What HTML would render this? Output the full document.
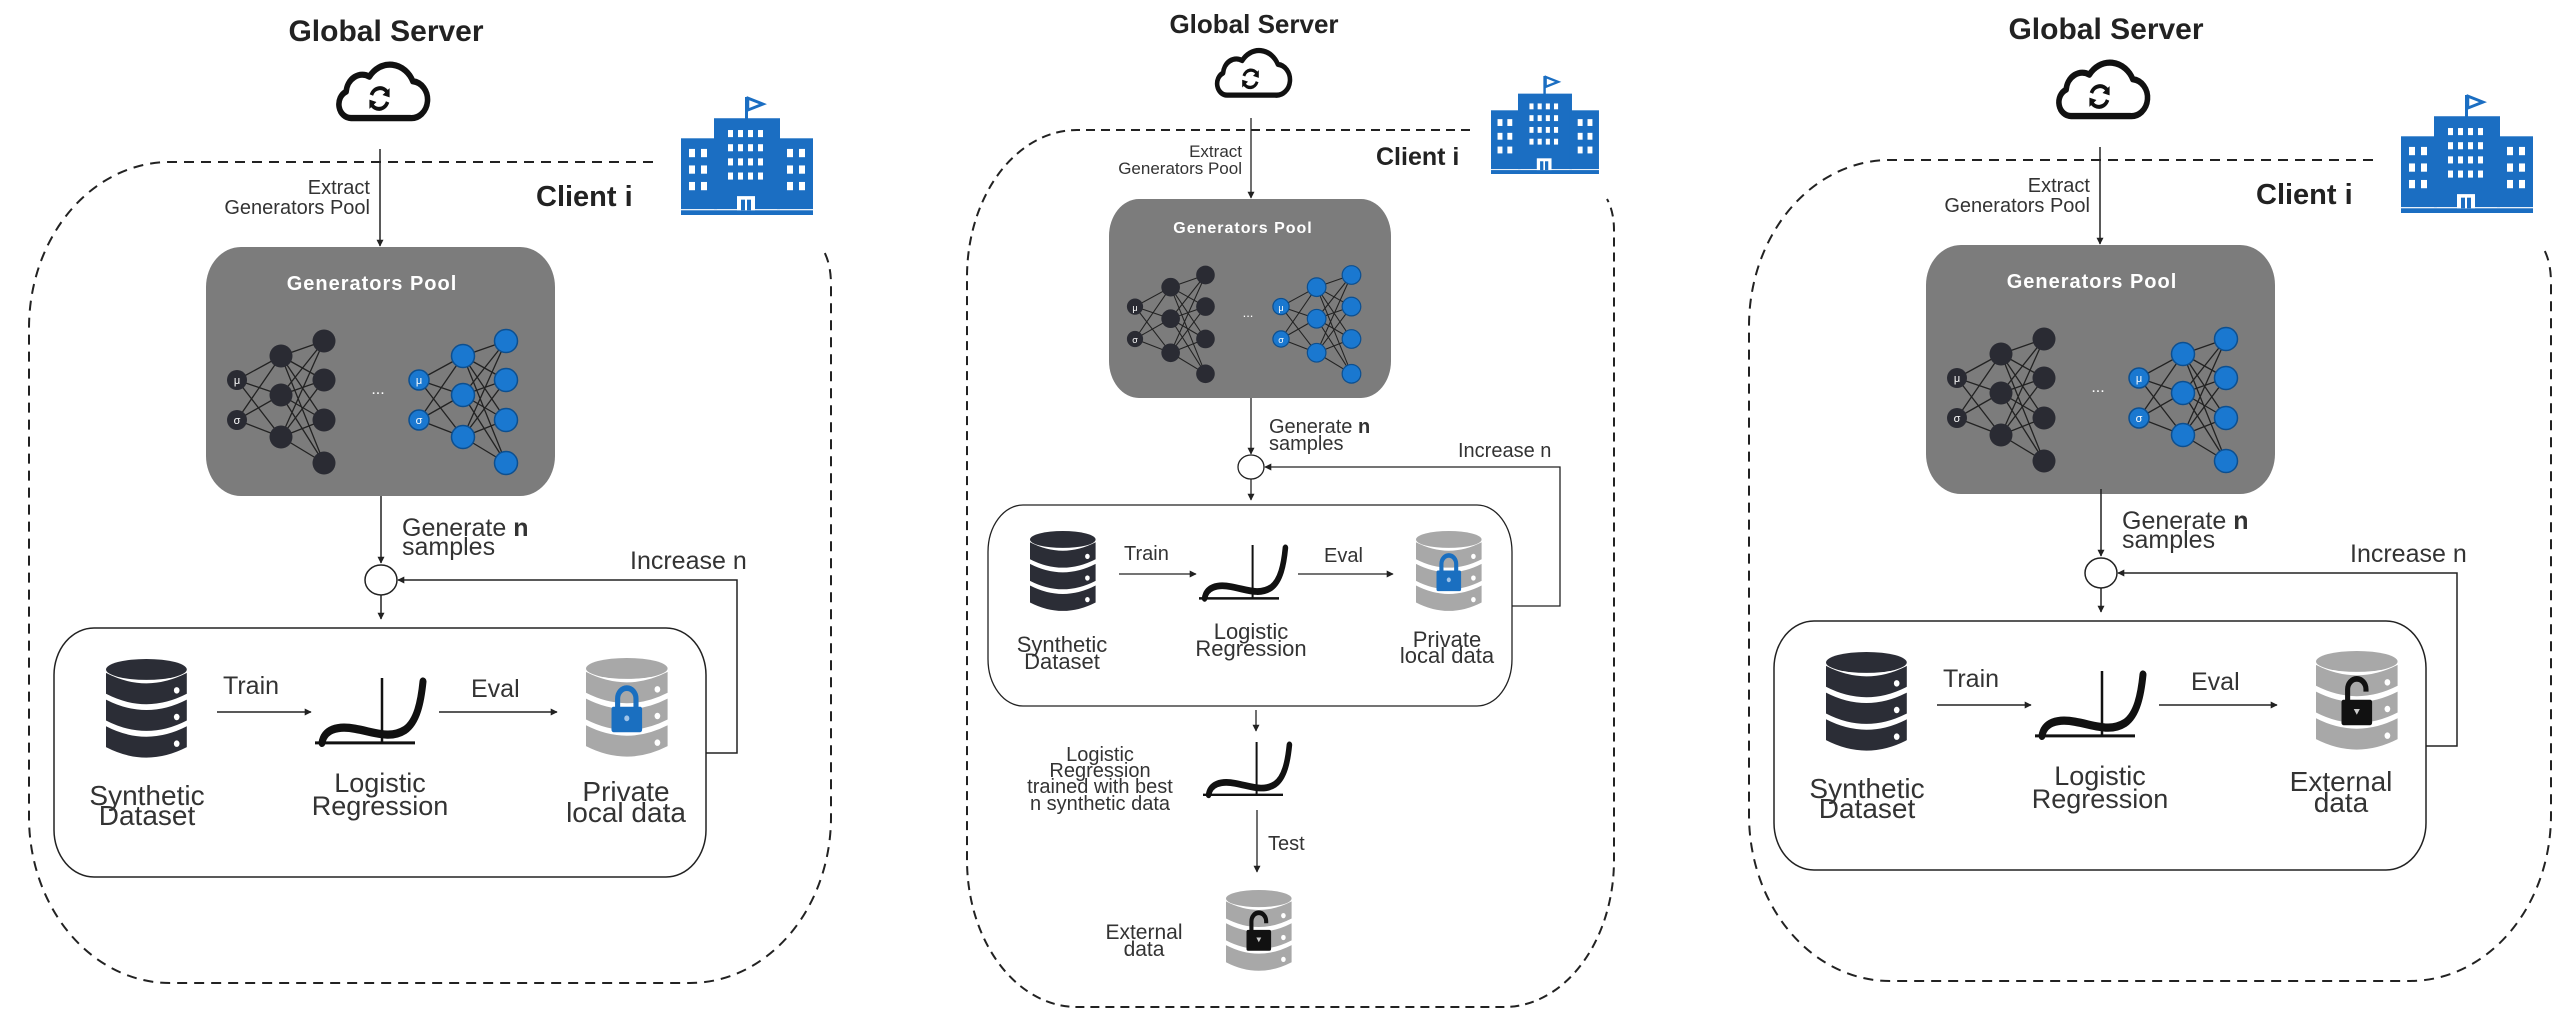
<!DOCTYPE html>
<html><head><meta charset="utf-8"><style>
html,body{margin:0;padding:0;background:#fff;}
svg{display:block;font-family:"Liberation Sans",sans-serif;}
</style></head><body>
<svg width="2566" height="1021" viewBox="0 0 2566 1021" xmlns="http://www.w3.org/2000/svg">
<defs>
<marker id="ah" viewBox="0 0 10 10" refX="9" refY="5" markerWidth="7" markerHeight="7" markerUnits="userSpaceOnUse" orient="auto"><path d="M0,0 L10,5 L0,10 Z" fill="#222"/></marker>
<g id="cloud">
<path d="M22,47 H80 A16,16 0 0 0 83,15 A25,25 0 0 0 40,11 A16,16 0 0 0 17,24 A12,12 0 0 0 22,47 Z" fill="#fff" stroke="#111" stroke-width="5.5" stroke-linejoin="round"/>
<path d="M42,27 A9,9 0 0 1 58,25" fill="none" stroke="#111" stroke-width="3.5"/>
<path d="M60,21 L60,29 L53,27 Z" fill="#111"/>
<path d="M58,33 A9,9 0 0 1 42,35" fill="none" stroke="#111" stroke-width="3.5"/>
<path d="M40,39 L40,31 L47,33 Z" fill="#111"/>
</g>
<g id="bldg" fill="#1b6ec2">
<rect x="0" y="35" width="36" height="60"/>
<rect x="33" y="18" width="66" height="77"/>
<rect x="96" y="35" width="36" height="60"/>
<rect x="0" y="96" width="132" height="4"/>
<rect x="64" y="0" width="3" height="19"/>
<path d="M67,1 L82,6 L67,11 Z" fill="none" stroke="#1b6ec2" stroke-width="2.5"/>
<g fill="#fff">
<rect x="8" y="44" width="6" height="7"/><rect x="20" y="44" width="6" height="7"/>
<rect x="8" y="58" width="6" height="7"/><rect x="20" y="58" width="6" height="7"/>
<rect x="8" y="72" width="6" height="7"/><rect x="20" y="72" width="6" height="7"/>
<rect x="106" y="44" width="6" height="7"/><rect x="118" y="44" width="6" height="7"/>
<rect x="106" y="58" width="6" height="7"/><rect x="118" y="58" width="6" height="7"/>
<rect x="106" y="72" width="6" height="7"/><rect x="118" y="72" width="6" height="7"/>
<rect x="47" y="28" width="5" height="6"/><rect x="57" y="28" width="5" height="6"/><rect x="67" y="28" width="5" height="6"/><rect x="77" y="28" width="5" height="6"/>
<rect x="47" y="40" width="5" height="6"/><rect x="57" y="40" width="5" height="6"/><rect x="67" y="40" width="5" height="6"/><rect x="77" y="40" width="5" height="6"/>
<rect x="47" y="52" width="5" height="6"/><rect x="57" y="52" width="5" height="6"/><rect x="67" y="52" width="5" height="6"/><rect x="77" y="52" width="5" height="6"/>
<rect x="47" y="64" width="5" height="6"/><rect x="57" y="64" width="5" height="6"/><rect x="67" y="64" width="5" height="6"/><rect x="77" y="64" width="5" height="6"/>
<rect x="56" y="84" width="18" height="12"/>
</g>
<rect x="60" y="87" width="4" height="9"/><rect x="66" y="87" width="4" height="9"/>
</g>
<g id="db">
<ellipse cx="40" cy="9" rx="40" ry="9"/>
<path d="M0,12 Q40,30 80,12 V30 Q40,48 0,30 Z"/>
<path d="M0,35 Q40,53 80,35 V53 Q40,71 0,53 Z"/>
<path d="M0,58 Q40,76 80,58 V76 Q40,94 0,76 Z"/>
<g fill="#fff"><circle cx="70" cy="27" r="2.8"/><circle cx="70" cy="50" r="2.8"/><circle cx="70" cy="73" r="2.8"/></g>
</g>
<g id="lockb">
<path d="M31,43 V35 A9,9 0 0 1 49,35 V43" fill="none" stroke="#1a6fc0" stroke-width="5"/>
<rect x="25" y="42" width="30" height="22" rx="2" fill="#1a6fc0"/>
<circle cx="40" cy="52" r="2.5" fill="#9fc3e8"/>
</g>
<g id="lockk">
<path d="M31,43 V33 A9,9 0 0 1 49,33 V35" fill="none" stroke="#111" stroke-width="5"/>
<rect x="25" y="42" width="30" height="22" rx="2" fill="#111"/>
<path d="M37,50 H43 L40,55 Z" fill="#ccc"/>
</g>
<g id="logi">
<path d="M0,55 H100 M67,0 V55" stroke="#111" stroke-width="2.5" fill="none"/>
<path d="M7,55 C9,44 22,40 40,43 C60,46 75,52 90,44 C102,37 106,20 108,3" stroke="#111" stroke-width="7" fill="none" stroke-linecap="round"/>
</g>
<g id="nnedges" stroke="#222" stroke-width="1.3">
<path d="M0,39 L44,15 M0,39 L44,54 M0,39 L44,96 M0,79 L44,15 M0,79 L44,54 M0,79 L44,96 M44,15 L87,0 M44,15 L87,39 M44,15 L87,79 M44,15 L87,122 M44,54 L87,0 M44,54 L87,39 M44,54 L87,79 M44,54 L87,122 M44,96 L87,0 M44,96 L87,39 M44,96 L87,79 M44,96 L87,122"/>
</g>
<g id="nnd">
<use href="#nnedges"/>
<g fill="#2a2b33">
<circle cx="0" cy="39" r="10"/><circle cx="0" cy="79" r="10"/>
<circle cx="44" cy="15" r="11.5"/><circle cx="44" cy="54" r="11.5"/><circle cx="44" cy="96" r="11.5"/>
<circle cx="87" cy="0" r="11.5"/><circle cx="87" cy="39" r="11.5"/><circle cx="87" cy="79" r="11.5"/><circle cx="87" cy="122" r="11.5"/>
</g>
</g>
<g id="nnb">
<use href="#nnedges"/>
<g fill="#1a78d0" stroke="#0d4f8f" stroke-width="1.5">
<circle cx="0" cy="39" r="10"/><circle cx="0" cy="79" r="10"/>
<circle cx="44" cy="15" r="11.5"/><circle cx="44" cy="54" r="11.5"/><circle cx="44" cy="96" r="11.5"/>
<circle cx="87" cy="0" r="11.5"/><circle cx="87" cy="39" r="11.5"/><circle cx="87" cy="79" r="11.5"/><circle cx="87" cy="122" r="11.5"/>
</g>
</g>
<g id="ptop">
<text x="386" y="41" font-size="30" font-weight="bold" fill="#222" text-anchor="middle">Global Server</text>
<use href="#cloud" transform="translate(329,64) scale(1.01,1.15)"/>
<use href="#bldg" transform="translate(681,97) scale(1,1.18)"/>
<text x="536" y="206" font-size="29" font-weight="bold" fill="#222">Client i</text>
<line x1="380" y1="149" x2="380" y2="246" stroke="#222" stroke-width="1.5" marker-end="url(#ah)"/>
<text x="370" y="194" font-size="20" fill="#333" text-anchor="end">Extract</text>
<text x="370" y="214" font-size="20" fill="#333" text-anchor="end">Generators Pool</text>
<rect x="206" y="247" width="349" height="249" rx="35" ry="40" fill="#7c7c7c"/>
<text x="372" y="290" font-size="20" font-weight="bold" fill="#fff" text-anchor="middle" letter-spacing="1">Generators Pool</text>
<use href="#nnd" transform="translate(237,341)"/>
<use href="#nnb" transform="translate(419,341)"/>
<text x="237" y="384" font-size="11" fill="#fff" text-anchor="middle">μ</text>
<text x="237" y="424" font-size="11" fill="#fff" text-anchor="middle">σ</text>
<text x="419" y="384" font-size="11" fill="#fff" text-anchor="middle">μ</text>
<text x="419" y="424" font-size="11" fill="#fff" text-anchor="middle">σ</text>
<text x="378" y="394" font-size="16" fill="#fff" text-anchor="middle">...</text>
</g>
<g id="pbot">
<line x1="381" y1="496" x2="381" y2="563" stroke="#222" stroke-width="1.5" marker-end="url(#ah)"/>
<ellipse cx="381" cy="580" rx="16" ry="15" fill="#fff" stroke="#222" stroke-width="1.5"/>
<text x="402" y="536" font-size="25" fill="#333">Generate <tspan font-weight="bold">n</tspan></text>
<text x="402" y="555" font-size="25" fill="#333">samples</text>
<line x1="381" y1="595" x2="381" y2="619" stroke="#222" stroke-width="1.5" marker-end="url(#ah)"/>
<polyline points="706,753 737,753 737,580 398,580" fill="none" stroke="#222" stroke-width="1.5" marker-end="url(#ah)"/>
<text x="630" y="569" font-size="25" fill="#333">Increase n</text>
<use href="#db" transform="translate(106,659) scale(1.01,1.16)" fill="#2b2d36"/>
<text x="147" y="805" font-size="28" fill="#333" text-anchor="middle">Synthetic</text>
<text x="147" y="825" font-size="28" fill="#333" text-anchor="middle">Dataset</text>
<text x="223" y="694" font-size="25" fill="#333">Train</text>
<line x1="217" y1="712" x2="311" y2="712" stroke="#222" stroke-width="1.5" marker-end="url(#ah)"/>
<use href="#logi" transform="translate(315,678) scale(1,1.18)"/>
<text x="380" y="792" font-size="27" fill="#333" text-anchor="middle">Logistic</text>
<text x="380" y="815" font-size="27" fill="#333" text-anchor="middle">Regression</text>
<text x="471" y="697" font-size="25" fill="#333">Eval</text>
<line x1="439" y1="712" x2="557" y2="712" stroke="#222" stroke-width="1.5" marker-end="url(#ah)"/>
</g>
</defs>

<!-- ===== LEFT PANEL ===== -->
<path d="M653,162 H170 A141,166 0 0 0 29,328 V817 A141,166 0 0 0 170,983 H690 A141,166 0 0 0 831,817 V285 Q831,262 822,248" fill="none" stroke="#222" stroke-width="2" stroke-dasharray="10 7"/>
<use href="#ptop"/>
<rect x="54" y="628" width="652" height="249" rx="40" ry="47" fill="#fff" stroke="#222" stroke-width="1.5"/>
<use href="#pbot"/>
<use href="#db" transform="translate(586,658) scale(1.02,1.16)" fill="#a8a8a8"/>
<use href="#lockb" transform="translate(586,658) scale(1.02,1.16)"/>
<text x="626" y="801" font-size="28" fill="#333" text-anchor="middle">Private</text>
<text x="626" y="822" font-size="28" fill="#333" text-anchor="middle">local data</text>

<!-- ===== RIGHT PANEL ===== -->
<g transform="translate(1720,-2)">
<path d="M653,162 H170 A141,166 0 0 0 29,328 V817 A141,166 0 0 0 170,983 H690 A141,166 0 0 0 831,817 V285 Q831,262 822,248" fill="none" stroke="#222" stroke-width="2" stroke-dasharray="10 7"/>
<use href="#ptop"/>
</g>
<g transform="translate(1720,-7)">
<rect x="54" y="628" width="652" height="249" rx="40" ry="47" fill="#fff" stroke="#222" stroke-width="1.5"/>
<use href="#pbot"/>
<use href="#db" transform="translate(596,658) scale(1.02,1.16)" fill="#a8a8a8"/>
<use href="#lockk" transform="translate(596,658) scale(1.02,1.16)"/>
<text x="621" y="798" font-size="28" fill="#333" text-anchor="middle">External</text>
<text x="621" y="819" font-size="28" fill="#333" text-anchor="middle">data</text>
</g>

<!-- ===== MIDDLE PANEL ===== -->
<g>
<text x="1254" y="33" font-size="26" font-weight="bold" fill="#222" text-anchor="middle">Global Server</text>
<use href="#cloud" transform="translate(1209,50) scale(0.83,0.96)"/>
<path d="M1470,130 H1077 A110,147 0 0 0 967,277 V860 A110,147 0 0 0 1077,1007 H1504 A110,147 0 0 0 1614,860 V230 Q1614,212 1607,199" fill="none" stroke="#222" stroke-width="2" stroke-dasharray="9 6"/>
<use href="#bldg" transform="translate(1491,76) scale(0.818,0.98)"/>
<text x="1376" y="165" font-size="25" font-weight="bold" fill="#222">Client i</text>
<line x1="1251" y1="118" x2="1251" y2="198" stroke="#222" stroke-width="1.3" marker-end="url(#ah)"/>
<text x="1242" y="157" font-size="17" fill="#333" text-anchor="end">Extract</text>
<text x="1242" y="174" font-size="17" fill="#333" text-anchor="end">Generators Pool</text>
<rect x="1109" y="199" width="282" height="199" rx="30" ry="37" fill="#7c7c7c"/>
<text x="1243" y="233" font-size="16" font-weight="bold" fill="#fff" text-anchor="middle" letter-spacing="1">Generators Pool</text>
<use href="#nnd" transform="translate(1135,275) scale(0.81)"/>
<use href="#nnb" transform="translate(1281,275) scale(0.81)"/>
<text x="1135" y="311" font-size="9" fill="#fff" text-anchor="middle">μ</text>
<text x="1135" y="343" font-size="9" fill="#fff" text-anchor="middle">σ</text>
<text x="1281" y="311" font-size="9" fill="#fff" text-anchor="middle">μ</text>
<text x="1281" y="343" font-size="9" fill="#fff" text-anchor="middle">σ</text>
<text x="1248" y="317" font-size="13" fill="#fff" text-anchor="middle">...</text>
<line x1="1251" y1="398" x2="1251" y2="454" stroke="#222" stroke-width="1.3" marker-end="url(#ah)"/>
<ellipse cx="1251" cy="467" rx="13" ry="12" fill="#fff" stroke="#222" stroke-width="1.3"/>
<text x="1269" y="433" font-size="20" fill="#333">Generate <tspan font-weight="bold">n</tspan></text>
<text x="1269" y="450" font-size="20" fill="#333">samples</text>
<line x1="1251" y1="479" x2="1251" y2="500" stroke="#222" stroke-width="1.3" marker-end="url(#ah)"/>
<polyline points="1512,606 1560,606 1560,467 1265,467" fill="none" stroke="#222" stroke-width="1.3" marker-end="url(#ah)"/>
<text x="1458" y="457" font-size="20" fill="#333">Increase n</text>
<rect x="988" y="505" width="524" height="201" rx="35" ry="47" fill="#fff" stroke="#222" stroke-width="1.3"/>
<use href="#db" transform="translate(1030,531) scale(0.82,0.94)" fill="#2b2d36"/>
<text x="1062" y="652" font-size="22" fill="#333" text-anchor="middle">Synthetic</text>
<text x="1062" y="669" font-size="22" fill="#333" text-anchor="middle">Dataset</text>
<text x="1124" y="560" font-size="20" fill="#333">Train</text>
<line x1="1119" y1="574" x2="1196" y2="574" stroke="#222" stroke-width="1.3" marker-end="url(#ah)"/>
<use href="#logi" transform="translate(1199,545) scale(0.8,0.97)"/>
<text x="1251" y="639" font-size="22" fill="#333" text-anchor="middle">Logistic</text>
<text x="1251" y="656" font-size="22" fill="#333" text-anchor="middle">Regression</text>
<text x="1324" y="562" font-size="20" fill="#333">Eval</text>
<line x1="1298" y1="574" x2="1393" y2="574" stroke="#222" stroke-width="1.3" marker-end="url(#ah)"/>
<use href="#db" transform="translate(1416,531) scale(0.82,0.94)" fill="#a8a8a8"/>
<use href="#lockb" transform="translate(1416,531) scale(0.82,0.94)"/>
<text x="1447" y="647" font-size="22" fill="#333" text-anchor="middle">Private</text>
<text x="1447" y="663" font-size="22" fill="#333" text-anchor="middle">local data</text>
<line x1="1256" y1="710" x2="1256" y2="731" stroke="#222" stroke-width="1.3" marker-end="url(#ah)"/>
<use href="#logi" transform="translate(1203,742) scale(0.8,0.96)"/>
<text x="1100" y="761" font-size="20" fill="#333" text-anchor="middle">Logistic</text>
<text x="1100" y="777" font-size="20" fill="#333" text-anchor="middle">Regression</text>
<text x="1100" y="793" font-size="20" fill="#333" text-anchor="middle">trained with best</text>
<text x="1100" y="810" font-size="20" fill="#333" text-anchor="middle">n synthetic data</text>
<line x1="1257" y1="810" x2="1257" y2="872" stroke="#222" stroke-width="1.3" marker-end="url(#ah)"/>
<text x="1268" y="850" font-size="20" fill="#333">Test</text>
<use href="#db" transform="translate(1226,890) scale(0.82,0.95)" fill="#a8a8a8"/>
<use href="#lockk" transform="translate(1226,890) scale(0.82,0.95)"/>
<text x="1144" y="939" font-size="21" fill="#333" text-anchor="middle">External</text>
<text x="1144" y="956" font-size="21" fill="#333" text-anchor="middle">data</text>
</g>
</svg>
</body></html>
